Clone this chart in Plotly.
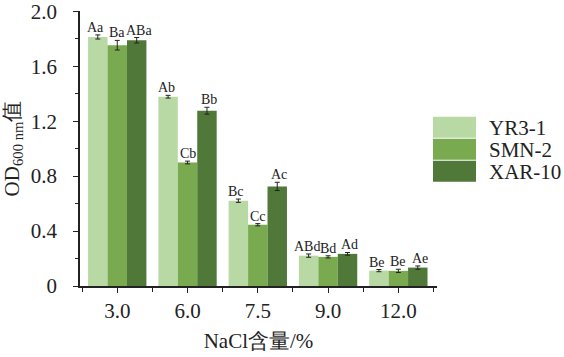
import plotly.graph_objects as go

categories = ["3.0", "6.0", "7.5", "9.0", "12.0"]
series_names = ["YR3-1", "SMN-2", "XAR-10"]
yr3_1 = [1.813, 1.378, 0.621, 0.221, 0.112]
smn_2 = [1.753, 0.899, 0.446, 0.212, 0.110]
xar_10 = [1.789, 1.276, 0.725, 0.234, 0.134]
yr3_1_err = [0.015, 0.010, 0.012, 0.012, 0.008]
smn_2_err = [0.035, 0.010, 0.008, 0.008, 0.012]
xar_10_err = [0.020, 0.025, 0.030, 0.010, 0.012]
yr3_1_lab = ["Aa", "Ab", "Bc", "ABd", "Be"]
smn_2_lab = ["Ba", "Cb", "Cc", "Bd", "Be"]
xar_10_lab = ["ABa", "Bb", "Ac", "Ad", "Ae"]
y_ticks = [0, 0.4, 0.8, 1.2, 1.6, 2.0]
y_tick_text = ["0", "0.4", "0.8", "1.2", "1.6", "2.0"]

colors = ["#b8d9a4", "#79aa4f", "#4f7839"]
values = [yr3_1, smn_2, xar_10]
errors = [yr3_1_err, smn_2_err, xar_10_err]
labels = [yr3_1_lab, smn_2_lab, xar_10_lab]

FONT = "Liberation Serif"
bargap = 0.17
xpos = list(range(len(categories)))

fig = go.Figure()
for name, vals, errs, col in zip(series_names, values, errors, colors):
    fig.add_trace(go.Bar(
        x=xpos, y=vals, name=name, marker=dict(color=col, line=dict(width=0)),
        error_y=dict(type="data", array=errs, color="#222222", thickness=1, width=2.5),
        showlegend=False, hoverinfo="skip",
    ))

w = (1 - bargap) / 3
for j, (vals, errs, labs) in enumerate(zip(values, errors, labels)):
    for i, (v, e, t) in enumerate(zip(vals, errs, labs)):
        fig.add_annotation(x=i + (j - 1) * w, y=v + e, text=t, showarrow=False,
                           yanchor="bottom", yshift=-1, xshift=(j - 1) * 2,
                           xref="x", yref="y", borderpad=0,
                           font=dict(family=FONT, size=14, color="#222222"))

# legend drawn manually (large swatches)
L, R, T, B = 80, 437, 11, 286.5
def px_x(p):
    return (p - L) / (R - L)
def px_y(p):
    return (B - p) / (B - T)
row_top = 117
row_h = 22
for k, (name, col) in enumerate(zip(series_names, colors)):
    y0 = row_top + k * row_h
    fig.add_shape(type="rect", xref="paper", yref="paper",
                  x0=px_x(433), x1=px_x(476), y0=px_y(y0 + row_h - 1), y1=px_y(y0),
                  fillcolor=col, line=dict(width=0))
    fig.add_annotation(xref="paper", yref="paper", x=px_x(487), y=px_y(y0 + row_h / 2),
                       text=name, showarrow=False, xanchor="left", yanchor="middle",
                       font=dict(family=FONT, size=21, color="#222222"))

fig.update_layout(
    width=564, height=357,
    margin=dict(l=L, r=564 - R, t=T, b=357 - B, autoexpand=False),
    plot_bgcolor="white", paper_bgcolor="white",
    barmode="group", bargap=bargap, bargroupgap=0,
    font=dict(family=FONT, size=21, color="#222222"),
)
fig.update_xaxes(
    range=[-0.53, 4.55], tickvals=xpos, ticktext=categories, automargin=False,
    showline=True, linecolor="#222222", linewidth=1.5, showgrid=False, zeroline=False,
    ticks="outside", ticklen=5, tickwidth=1.2, tickcolor="#222222",
    minor=dict(tick0=0.5, dtick=1, ticks="outside", ticklen=4, tickwidth=1.2, tickcolor="#222222"),
    tickfont=dict(family=FONT, size=21), ticklabelstandoff=0, ticklabeloverflow="allow",
    title=dict(text="NaCl含量/%", font=dict(family=FONT, size=21), standoff=11),
)
fig.update_yaxes(
    range=[0, 2.002], tickvals=y_ticks, ticktext=y_tick_text, automargin=False,
    showline=True, linecolor="#222222", linewidth=1.5, showgrid=False, zeroline=False,
    ticks="outside", ticklen=5, tickwidth=1.2, tickcolor="#222222",
    minor=dict(dtick=0.2, ticks="outside", ticklen=3, tickwidth=1.2, tickcolor="#222222"),
    tickfont=dict(family=FONT, size=21), ticklabelstandoff=12, ticklabeloverflow="allow",
    title=dict(text="OD<sub>600 nm</sub>值", font=dict(family=FONT, size=21), standoff=12),
)

fig.write_html("out.html", config={"displayModeBar": False},
               post_script="document.body.style.margin='0';")
